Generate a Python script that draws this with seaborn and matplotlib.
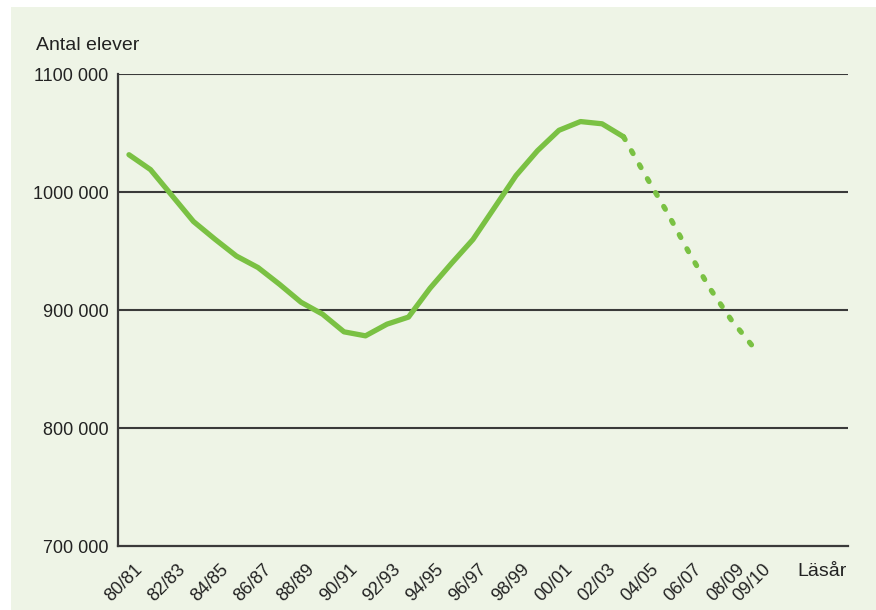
import matplotlib
matplotlib.use("Agg")
import matplotlib.pyplot as plt
from matplotlib.transforms import ScaledTranslation
from matplotlib.patches import Rectangle
import seaborn as sns
import pandas as pd

years = ["80/81", "81/82", "82/83", "83/84", "84/85", "85/86", "86/87", "87/88",
         "88/89", "89/90", "90/91", "91/92", "92/93", "93/94", "94/95", "95/96",
         "96/97", "97/98", "98/99", "99/00", "00/01", "01/02", "02/03", "03/04",
         "04/05", "05/06", "06/07", "07/08", "08/09", "09/10"]
actual = [1031600, 1019000, 997000, 975000, 960000, 945700, 936000, 921800,
          906600, 896500, 881500, 878100, 888000, 894000, 918400, 939500,
          959800, 986800, 1013900, 1035000, 1052300, 1059700, 1057800, 1046800]
forecast_years = ["03/04", "04/05", "05/06", "06/07", "07/08", "08/09", "09/10"]
forecast = [1046800, 1014700, 983700, 950200, 918800, 891900, 869400]
tick_labels = ["80/81", "82/83", "84/85", "86/87", "88/89", "90/91", "92/93", "94/95",
               "96/97", "98/99", "00/01", "02/03", "04/05", "06/07", "08/09", "09/10"]
y_ticks = [700000, 800000, 900000, 1000000, 1100000]
y_tick_labels = ["700 000", "800 000", "900 000", "1000 000", "1100 000"]

sns.set_theme(style="white")
plt.rcParams['font.family'] = ['Liberation Sans Narrow', 'Liberation Sans', 'DejaVu Sans']

BG = "#eef4e6"
GREEN = "#7ac143"
DARK = "#3a3a3a"
TXT = "#222222"
FS = 13

idx = {y: i for i, y in enumerate(years)}
df_a = pd.DataFrame({"x": [idx[y] for y in years[:len(actual)]], "v": actual})
df_f = pd.DataFrame({"x": [idx[y] for y in forecast_years], "v": forecast})

fig = plt.figure(figsize=(8.76, 6.10), dpi=100)
fig.patch.set_facecolor("white")
fig.patches.append(Rectangle((11 / 876, 0), 1, 1 - 7 / 610, transform=fig.transFigure,
                             facecolor=BG, edgecolor="none", zorder=-10))
ax = fig.add_axes([118 / 876, 64 / 610, (848 - 118) / 876, (546 - 74) / 610])
ax.set_facecolor("none")

for yv in y_ticks[1:]:
    ax.axhline(yv, color=DARK, lw=1.5, zorder=1)

sns.lineplot(data=df_a, x="x", y="v", ax=ax, color=GREEN, lw=3.8,
             solid_capstyle="round", solid_joinstyle="round", zorder=3)
sns.lineplot(data=df_f, x="x", y="v", ax=ax, color=GREEN, lw=3.8,
             linestyle=(0, (0.6, 2.45)), dash_capstyle="round", zorder=3)

ax.set_xlim(-0.51, 33.44)
ax.set_ylim(700000, 1100000)
ax.set_yticks(y_ticks)
ax.set_yticklabels(y_tick_labels)
ax.set_xticks([idx[t] for t in tick_labels])
ax.set_xticklabels(tick_labels, rotation=45, ha="right", va="center", rotation_mode="anchor")
ax.tick_params(axis="both", length=0, labelsize=FS, colors=TXT)
ax.tick_params(axis="y", pad=7)
ax.tick_params(axis="x", pad=15)
xlabels = ax.get_xticklabels()
for i, lab in enumerate(xlabels):
    dx = 11 if i < len(xlabels) - 1 else 16
    lab.set_transform(lab.get_transform() + ScaledTranslation(dx / 100, 0, fig.dpi_scale_trans))

ax.set_xlabel("")
ax.set_ylabel("")
for s in ["top", "right"]:
    ax.spines[s].set_visible(False)
for s in ["left", "bottom"]:
    ax.spines[s].set_color(DARK)
    ax.spines[s].set_linewidth(1.6)

fig.text(36 / 876, 1 - 45 / 610, "Antal elever", fontsize=FS + 1, color=TXT,
         ha="left", va="center")
fig.text(847 / 876, 1 - 572 / 610, "Läsår", fontsize=FS + 1, color=TXT,
         ha="right", va="center")

fig.savefig("out.png", dpi=100, facecolor=fig.get_facecolor())
